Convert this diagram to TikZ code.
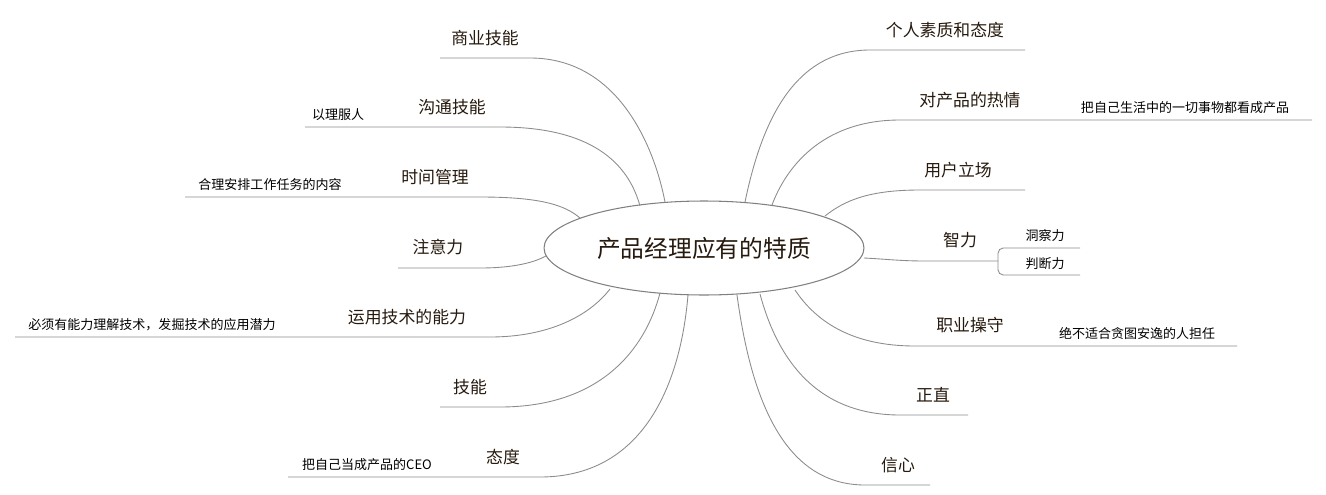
\documentclass[tikz,border=0pt]{standalone}
\usepackage{fontspec}
\setmainfont{Noto Sans CJK SC}
\usetikzlibrary{shapes.geometric}
\begin{document}
\begin{tikzpicture}[x=0.02cm,y=-0.02cm,
  lbl/.style={text=black!80!brown, font=\fontsize{9.6pt}{11pt}\selectfont, inner sep=0},
  sub/.style={text=black, font=\fontsize{7.4pt}{9pt}\selectfont, inner sep=0},
  ln/.style={draw=black!45, line width=0.5pt}]
\useasboundingbox (0,0) rectangle (1326,494);
\node[ellipse, draw=black!50, line width=0.6pt, minimum width=6.4cm, minimum height=1.88cm, inner sep=0, text=black!80!brown, font=\fontsize{13.5pt}{15pt}\selectfont] (c) at (704,248) {产品经理应有的特质};
% coordinates on ellipse
\coordinate (e1) at (665,202); \coordinate (e2) at (640,206); \coordinate (e3) at (580,218);
\coordinate (e4) at (546,256); \coordinate (e5) at (610,289); \coordinate (e6) at (660,293);
\coordinate (e7) at (688,295);
\coordinate (f1) at (745,202); \coordinate (f2) at (772,205); \coordinate (f3) at (825,216);
\coordinate (f4) at (864,258); \coordinate (f5) at (795,290); \coordinate (f6) at (760,294);
\coordinate (f7) at (737,295);
% left
\node[lbl] (l1) at (485,38) {商业技能};
\coordinate (a1) at (440,58); \coordinate (b1) at (530,58);
\draw[ln] (a1)--(b1) .. controls (620,58) and (655,150) .. (e1);
\node[lbl] (l2) at (452,107) {沟通技能};
\node[sub] (s2) at (338,115) {以理服人};
\coordinate (z2) at (305,127); \coordinate (a2) at (405,127); \coordinate (b2) at (500,127);
\draw[ln] (z2)--(a2)--(b2) .. controls (600,127) and (630,170) .. (e2);
\node[lbl] (l3) at (435,177) {时间管理};
\node[sub] (s3) at (270,185) {合理安排工作任务的内容};
\coordinate (z3) at (185,197); \coordinate (a3) at (390,197); \coordinate (b3) at (480,197);
\draw[ln] (z3)--(a3)--(b3) .. controls (540,197) and (565,205) .. (e3);
\node[lbl] (l4) at (438,247) {注意力};
\coordinate (a4) at (398,268); \coordinate (b4) at (480,268);
\draw[ln] (a4)--(b4) .. controls (515,268) and (535,262) .. (e4);
\node[lbl] (l5) at (407,317) {运用技术的能力};
\node[sub] (s5) at (152,325) {必须有能力理解技术，发掘技术的应用潜力};
\coordinate (z5) at (15,337); \coordinate (a5) at (330,337); \coordinate (b5) at (490,337);
\draw[ln] (z5)--(a5)--(b5) .. controls (550,337) and (590,315) .. (e5);
\node[lbl] (l6) at (470,387) {技能};
\coordinate (a6) at (440,407); \coordinate (b6) at (500,407);
\draw[ln] (a6)--(b6) .. controls (600,407) and (645,350) .. (e6);
\node[lbl] (l7) at (503,457) {态度};
\node[sub] (s7) at (367,465) {把自己当成产品的CEO};
\coordinate (z7) at (288,477); \coordinate (a7) at (480,477); \coordinate (b7) at (540,477);
\draw[ln] (z7)--(a7)--(b7) .. controls (640,477) and (680,390) .. (e7);
% right
\node[lbl] (r1) at (945,30) {个人素质和态度};
\coordinate (c1) at (870,50); \coordinate (d1) at (1025,50);
\draw[ln] (d1)--(c1) .. controls (790,50) and (760,130) .. (f1);
\node[lbl] (r2) at (970,100) {对产品的热情};
\node[sub] (t2) at (1185,108) {把自己生活中的一切事物都看成产品};
\coordinate (c2) at (900,120); \coordinate (d2) at (1068,120); \coordinate (g2) at (1312,120);
\draw[ln] (g2)--(d2)--(c2) .. controls (820,120) and (785,170) .. (f2);
\node[lbl] (r3) at (958,170) {用户立场};
\coordinate (c3) at (920,190); \coordinate (d3) at (1025,190);
\draw[ln] (d3)--(c3) .. controls (870,190) and (845,200) .. (f3);
\node[lbl] (r4) at (960,240) {智力};
\node[sub] (t4a) at (1045,236) {洞察力};
\node[sub] (t4b) at (1045,264) {判断力};
\coordinate (c4) at (925,261); \coordinate (d4) at (998,261);
\coordinate (h1) at (1080,248); \coordinate (h2) at (1080,275);
\draw[ln] (d4)--(c4) .. controls (900,261) and (885,259) .. (f4);
\draw[ln,rounded corners=3pt] (h1)--(998,248)--(998,275)--(h2);
\node[lbl] (r5) at (970,325) {职业操守};
\node[sub] (t5) at (1137,334) {绝不适合贪图安逸的人担任};
\coordinate (c5) at (915,346); \coordinate (d5) at (1010,346); \coordinate (g5) at (1237,346);
\draw[ln] (g5)--(d5)--(c5) .. controls (850,346) and (815,320) .. (f5);
\node[lbl] (r6) at (933,395) {正直};
\coordinate (c6) at (900,415); \coordinate (d6) at (968,415);
\draw[ln] (d6)--(c6) .. controls (810,415) and (775,350) .. (f6);
\node[lbl] (r7) at (898,465) {信心};
\coordinate (c7) at (865,485); \coordinate (d7) at (930,485);
\draw[ln] (d7)--(c7) .. controls (780,485) and (750,390) .. (f7);
\end{tikzpicture}
\end{document}
